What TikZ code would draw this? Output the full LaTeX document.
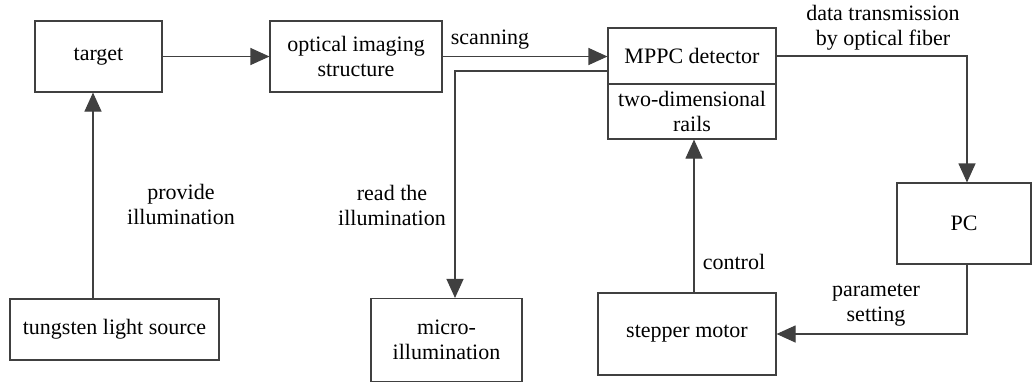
\documentclass[tikz,border=0pt]{standalone}
\usepackage{fontspec}
\setmainfont{Liberation Serif}
\usetikzlibrary{arrows.meta}
\begin{document}
\begin{tikzpicture}[x=1pt,y=-1pt,
  box/.style={draw=black!75, line width=1.1pt, rectangle, inner sep=0pt, align=center, font=\fontsize{22}{25}\selectfont},
  lbl/.style={align=center, inner sep=0pt, font=\fontsize{22}{25}\selectfont},
  arr/.style={draw=black!75, line width=1.1pt, -{Triangle[length=19pt,width=17pt]}},
  ln/.style={draw=black!75, line width=1.1pt}]
\useasboundingbox (0,0) rectangle (1032,384);
\node[box, minimum width=127pt, minimum height=71pt] (target) at (98.5,56.5) {target};
\node[box, minimum width=172pt, minimum height=71pt] (optical) at (356,56.5) {optical imaging\\structure};
\node[box, minimum width=168pt, minimum height=56pt] (mppc) at (692,56) {MPPC detector};
\node[box, minimum width=168pt, minimum height=55pt] (rails) at (692,111.5) {two-dimensional\\rails};
\node[box, minimum width=209pt, minimum height=61pt] (tungsten) at (114.5,329.5) {tungsten light source};
\node[box, minimum width=151pt, minimum height=83pt] (micro) at (446.5,340) {micro-\\illumination};
\node[box, minimum width=178pt, minimum height=82pt] (stepper) at (687,334) {stepper motor};
\node[box, minimum width=134pt, minimum height=81pt] (pc) at (964,223.5) {PC};

\coordinate (c1) at (455,71);
\coordinate (c2) at (93,0);
\coordinate (c3) at (694,0);
\coordinate (c4) at (967,0);
\coordinate (c5) at (0,334);

\draw[arr] (target.east) -- (optical.west);
\draw[arr] (optical.east) -- (mppc.west |- optical.east);
\draw[arr] (mppc.west |- c1) -| (c1 |- micro.north);
\draw[arr] (c2 |- tungsten.north) -- (c2 |- target.south);
\draw[arr] (c3 |- stepper.north) -- (c3 |- rails.south);
\draw[arr] (mppc.east) -| (c4 |- pc.north);
\draw[arr] (c4 |- pc.south) |- (stepper.east |- c5);

\node[lbl] (l1) at (490,40) {scanning};
\node[lbl] (l2) at (883,28) {data transmission\\by optical fiber};
\node[lbl] (l3) at (181,204) {provide\\illumination};
\node[lbl] (l4) at (392,205) {read the\\illumination};
\node[lbl] (l5) at (734,262) {control};
\node[lbl] (l6) at (876,305) {parameter\\setting};
\end{tikzpicture}
\end{document}
